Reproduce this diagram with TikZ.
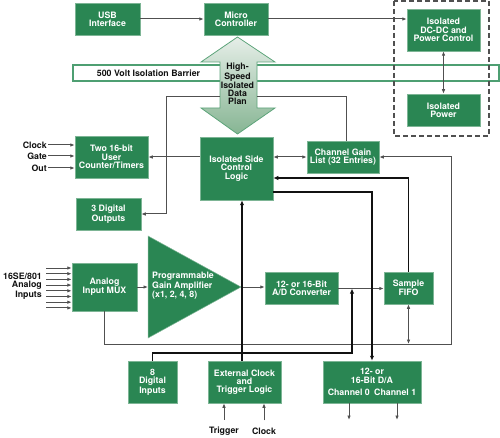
\documentclass[tikz,border=0pt]{standalone}
\usepackage{fontspec}
\setmainfont{TeX Gyre Heros}
\usetikzlibrary{arrows.meta,positioning,calc}
\definecolor{ink}{HTML}{111111}
\definecolor{wire}{HTML}{505050}
\definecolor{board}{HTML}{2A8653}
\definecolor{boardedge}{HTML}{7DB595}
\definecolor{planlight}{HTML}{E6EEE8}
\definecolor{plandark}{HTML}{86B593}
\definecolor{planedge}{HTML}{5DA47A}
\definecolor{barrieredge}{HTML}{4E9F72}
\tikzset{
  gbox/.style={draw=boardedge, line width=0.5pt, fill=board, text=white, align=center, inner sep=0pt, font=\fontsize{8.8}{8.3}\selectfont\bfseries},
  gtext/.style={text=white, align=left, inner sep=0pt, font=\fontsize{8.8}{8.3}\selectfont\bfseries},
  tag/.style={text=ink, align=right, inner sep=1pt, font=\fontsize{8.8}{8.3}\selectfont\bfseries},
  plantext/.style={text=ink, align=center, inner sep=0pt, font=\fontsize{8.8}{8.1}\selectfont\bfseries},
  wireline/.style={line width=1pt, draw=wire},
  wirearrow/.style={-{Latex[length=4.5pt,width=3.6pt]}, line width=1pt, draw=wire},
  wireboth/.style={{Latex[length=4.5pt,width=3.6pt]}-{Latex[length=4.5pt,width=3.6pt]}, line width=1pt, draw=wire},
  heavyarrow/.style={-{Latex[length=5pt,width=4.4pt]}, line width=1.6pt, draw=ink},
  heavyline/.style={line width=1.6pt, draw=ink},
  groupline/.style={draw=wire, line width=1.4pt, dash pattern=on 5pt off 3pt},
  barrierline/.style={draw=barrieredge, line width=1.4pt, fill=white},
  planarrow/.style={draw=planedge, line width=0.8pt, top color=planlight, bottom color=plandark}
}

\begin{document}
\begin{tikzpicture}[x=1pt,y=-1pt]
\useasboundingbox (0,0) rectangle (500,438);
% isolation barrier and isolated power group
\draw[barrierline] (73,65) rectangle (499,81);
\node[tag, align=center] (bartxt) at (148.5,73) {500 Volt Isolation Barrier};
\draw[groupline] (394,1) rectangle (489,136);
% data plan across the barrier
\draw[planarrow] (237.5,37) -- (275,62) -- (257,62) -- (257,108) -- (275,108) -- (237.5,134) -- (201,108) -- (220,108) -- (220,62) -- (201,62) -- cycle;
\coordinate (planL) at (220,97); \coordinate (planR) at (257,97);
\node[plantext] (plan) at (237.5,84) {High-\\Speed\\Isolated\\Data\\Plan};

\node[gbox, minimum width=65pt, minimum height=32pt] (usb) at (107.5,19) {USB\\Interface};
\node[gbox, minimum width=64pt, minimum height=32pt] (micro) at (236,19) {Micro\\Controller};
\node[gbox, minimum width=73pt, minimum height=42pt] (dcdc) at (443.5,30) {Isolated\\DC-DC and\\Power Control};
\node[gbox, minimum width=73pt, minimum height=32pt] (ipower) at (443.5,110) {Isolated\\Power};
\node[gbox, minimum width=73pt, minimum height=63pt] (ctrl) at (236.5,168.5) {Isolated Side\\Control\\Logic};
\node[gbox, minimum width=72pt, minimum height=32pt] (cgain) at (343,157) {Channel Gain\\List (32 Entries)};
\node[gbox, minimum width=73pt, minimum height=42pt] (counter) at (111.5,157) {Two 16-bit\\User\\Counter/Timers};
\node[gbox, minimum width=65pt, minimum height=32pt] (dout) at (108.5,214) {3 Digital\\Outputs};
\node[gbox, minimum width=65pt, minimum height=48pt] (mux) at (104.5,287) {Analog\\Input MUX};
% gain amplifier
\filldraw[draw=boardedge, line width=0.5pt, fill=board] (148,236) -- (241,287) coordinate (ampout) -- (148,338) -- cycle;
\coordinate (ampin) at (148,287);
\node[gtext, anchor=west] (amp) at (152,286) {Programmable\\Gain Amplifier\\(x1, 2, 4, 8)};
\node[gbox, minimum width=73pt, minimum height=32pt] (adc) at (301.5,288.5) {12- or 16-Bit\\A/D Converter};
\node[gbox, minimum width=49pt, minimum height=32pt] (fifo) at (408.5,288) {Sample\\FIFO};
\node[gbox, minimum width=49pt, minimum height=42pt] (din) at (152.5,382) {8\\Digital\\Inputs};
\node[gbox, minimum width=73pt, minimum height=42pt] (ext) at (244.5,382) {External Clock\\and\\Trigger Logic};
\node[gbox, minimum width=98pt, minimum height=42pt] (dac) at (372,382) {12- or\\16-Bit D/A\\[4pt]Channel 0\enspace Channel 1};

% outside signals
\node[tag, anchor=east] (clkin) at (48,145) {Clock};
\node[tag, anchor=east] (gatein) at (48,156) {Gate};
\node[tag, anchor=east] (outpin) at (48,168) {Out};
\foreach \n in {clkin,gatein,outpin} \draw[wirearrow] (\n.east) -- (\n.east -| counter.west);
\node[tag, anchor=east] (ain) at (43,286) {16SE/801\\Analog\\Inputs};
\foreach \i in {0,...,7} {
  \coordinate (ain\i) at (46,{268+\i*5.7});
  \draw[wirearrow] (ain\i) -- (ain\i -| mux.west);
}
\node[tag, align=center] (trig) at (224,431) {Trigger};
\node[tag, align=center] (clkext) at (264,431) {Clock};
\draw[wirearrow, shorten <=6pt] (trig.north) -- (trig.north |- ext.south);
\draw[wirearrow, shorten <=6pt] (clkext.north) -- (clkext.north |- ext.south);
\coordinate (ch0) at (349,420); \coordinate (ch1) at (397,420);
\draw[wirearrow] (ch0 |- dac.south) -- (ch0);
\draw[wirearrow] (ch1 |- dac.south) -- (ch1);

% host side
\draw[wirearrow] (usb) -- (micro);
\draw[wirearrow] (micro.east) -- (micro.east -| dcdc.west);
\draw[wireboth] (dcdc) -- (ipower);

% isolated side, thin wires
\coordinate (outbus) at (166,0); \coordinate (gainbus) at (346,0);
\draw[wirearrow] (planL) -| (outbus |- dout.east) -- (dout.east);
\draw[wireline] (planR) -| (gainbus |- cgain.north);
\draw[wirearrow] (ctrl.west |- counter.east) -- (counter.east);
\draw[wireboth] (ctrl.east |- cgain.west) -- (cgain.west);
\coordinate (loopL) at (105,344); \coordinate (loopR) at (451,344);
\draw[wirearrow] (mux.south) -- (mux.south |- loopL) -- (loopR) -- (loopR |- cgain.east) -- (cgain.east);
\draw[wireboth] (fifo.south) -- (fifo.south |- loopL);
\draw[wirearrow] (mux.east) -- (ampin);
\draw[wirearrow] (ampout) -- (ampout -| adc.west);
\draw[wirearrow] (adc.east) -- (adc.east -| fifo.west);

% isolated side, heavy wires
\draw[heavyarrow] (fifo.north) |- ($(ctrl.east)+(0,9.5)$);
\draw[heavyarrow] ($(ctrl.east)+(0,23.5)$) -| (dac.north);
\coordinate (trigbus) at (242,0); \coordinate (dinbus) at (352,353);
\draw[heavyarrow] (ext.north -| trigbus) -- (ctrl.south -| trigbus);
\draw[heavyarrow] (din.north) |- (dinbus) -- (dinbus |- adc.east);
\end{tikzpicture}
\end{document}
